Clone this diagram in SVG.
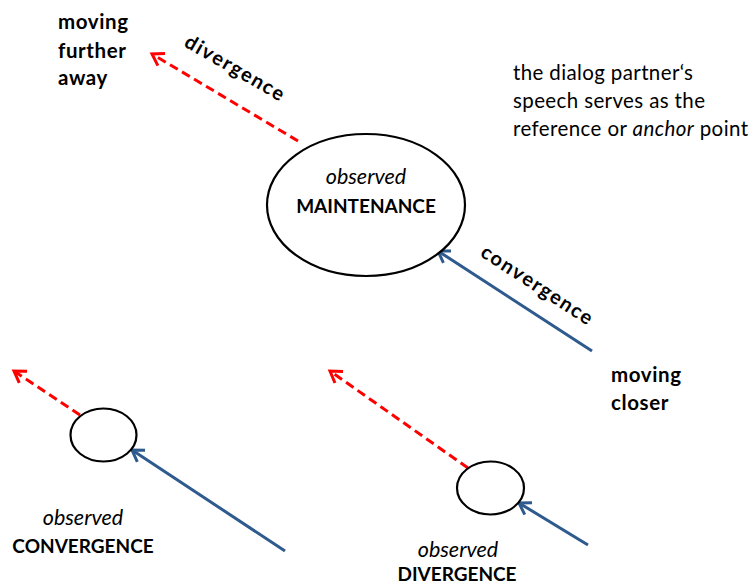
<svg xmlns="http://www.w3.org/2000/svg" width="754" height="585" viewBox="0 0 754 585">
  <style>
    text { font-family: Lato, "Open Sans", "Liberation Sans", sans-serif; fill: #000; }
    .b { font-weight: bold; font-size: 19px; }
    .bl { font-weight: bold; font-size: 20.5px; letter-spacing: 0.6px; }
    .it { font-style: italic; font-size: 21.5px; }
    .body { font-size: 20.5px; }
    .lbl { font-weight: bold; font-size: 20px; letter-spacing: 1.6px; }
    .node { fill: #fff; stroke: #000; stroke-width: 2.2; }
    .div { stroke: #ff0000; stroke-width: 3; stroke-dasharray: 9 5; fill: none; }
    .conv { stroke: #2e5a8e; stroke-width: 3; fill: none; }
  </style>
  <defs>
    <marker id="headRed" markerUnits="userSpaceOnUse" markerWidth="20" markerHeight="20" refX="0" refY="0" viewBox="-14 -10 20 20" orient="auto">
      <path d="M-11,-7 L0,0 L-11,7" fill="none" stroke="#ff0000" stroke-width="3"/>
    </marker>
    <marker id="headBlue" markerUnits="userSpaceOnUse" markerWidth="20" markerHeight="20" refX="0" refY="0" viewBox="-14 -10 20 20" orient="auto">
      <path d="M-11,-7 L0,0 L-11,7" fill="none" stroke="#2e5a8e" stroke-width="3"/>
    </marker>
  </defs>

  <g id="connectors">
    <line class="div" x1="298" y1="141" x2="152" y2="54" marker-end="url(#headRed)"/>
    <line class="conv" x1="592" y1="351" x2="438" y2="251" marker-end="url(#headBlue)"/>
    <line class="div" x1="80" y1="415" x2="14" y2="371" marker-end="url(#headRed)"/>
    <line class="conv" x1="285" y1="551" x2="132" y2="450" marker-end="url(#headBlue)"/>
    <line class="div" x1="468" y1="468" x2="330" y2="371" marker-end="url(#headRed)"/>
    <line class="conv" x1="588" y1="545" x2="519" y2="503" marker-end="url(#headBlue)"/>
    <text class="lbl" transform="translate(232,74) rotate(30)" text-anchor="middle">divergence</text>
    <text class="lbl" transform="translate(534,291) rotate(33)" text-anchor="middle">convergence</text>
  </g>

  <g id="maintenance">
    <ellipse class="node" cx="366" cy="205" rx="99" ry="71"/>
    <text class="it" x="366" y="184" text-anchor="middle">observed</text>
    <text class="b" x="366" y="213" text-anchor="middle">MAINTENANCE</text>
  </g>

  <g id="convergence-node">
    <ellipse class="node" cx="103.5" cy="435" rx="33" ry="26.5"/>
    <text class="it" x="83" y="525" text-anchor="middle">observed</text>
    <text class="b" x="83" y="553" text-anchor="middle">CONVERGENCE</text>
  </g>

  <g id="divergence-node">
    <ellipse class="node" cx="490.5" cy="488" rx="33.5" ry="26.5"/>
    <text class="it" x="458" y="557" text-anchor="middle">observed</text>
    <text class="b" x="457" y="581" text-anchor="middle">DIVERGENCE</text>
  </g>

  <g id="further-away">
    <text class="bl" x="58" y="29">moving</text>
    <text class="bl" x="58" y="58">further</text>
    <text class="bl" x="58" y="85">away</text>
  </g>

  <g id="closer">
    <text class="bl" x="611" y="382">moving</text>
    <text class="bl" x="611" y="410">closer</text>
  </g>

  <g id="anchor-note">
    <text class="body" x="513" y="80" textLength="180">the dialog partner‘s</text>
    <text class="body" x="513" y="108" textLength="192">speech serves as the</text>
    <text class="body" x="513" y="136" textLength="235">reference or <tspan font-style="italic">anchor</tspan> point</text>
  </g>
</svg>
